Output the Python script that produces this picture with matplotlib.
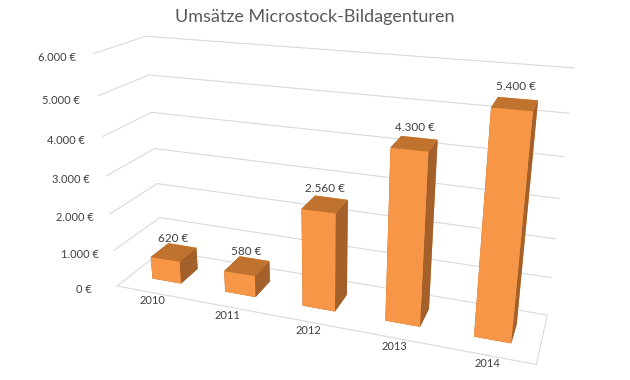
import matplotlib
matplotlib.use("Agg")
import matplotlib.pyplot as plt
import numpy as np
from matplotlib.ticker import FuncFormatter

years = ["2010", "2011", "2012", "2013", "2014"]
values = [620, 580, 2560, 4300, 5400]
z_ticks = [0, 1000, 2000, 3000, 4000, 5000, 6000]
title = "Umsätze Microstock-Bildagenturen"

front_c = "#F79646"
top_c = "#C0732F"
side_c = "#A3602A"
text_c = "#404040"

plt.rcParams['font.family'] = ['Lato', 'DejaVu Sans']

fig = plt.figure(figsize=(6.3, 3.8), dpi=100)
ax = fig.add_axes([-0.12, -0.18, 1.25, 1.34], projection='3d')
ax.set_proj_type('persp', focal_length=0.3)
ax.view_init(elev=21, azim=-70)
ax.set_box_aspect((4.2, 0.9, 2.4), zoom=1.0)

bw, bd = 0.4, 0.4
xs = np.arange(len(years))
n = len(years)
# face order: bottom, top, front(-y), back(+y), left(-x), right(+x)
colors = []
for _ in range(n):
    colors += [side_c, top_c, front_c, front_c, side_c, side_c]
ax.bar3d(xs - bw / 2, np.full(n, 0.5 - bd / 2), np.zeros(n), bw, bd, values,
         color=colors, shade=False, edgecolor='none')

for x, v in zip(xs, values):
    lab = f"{v:,}".replace(",", ".") + " €"
    ax.text(x, 0.5, v + 250, lab, ha='center', va='bottom', fontsize=8.5, color=text_c)

ax.set_xlim(-0.5, n - 0.5)
ax.set_ylim(0, 1)
ax.set_zlim(0, 6000)
ax.set_xticks(xs)
ax.set_xticklabels(years, fontsize=8, color=text_c)
ax.set_yticks([])
ax.set_zticks(z_ticks)
ax.zaxis.set_major_formatter(FuncFormatter(lambda v, p: f"{int(v):,}".replace(",", ".") + " €"))
ax.zaxis.set_ticks_position('lower')
ax.tick_params(axis='z', labelsize=8, colors=text_c, pad=8)
ax.tick_params(axis='x', pad=-6)

for axis in (ax.xaxis, ax.yaxis, ax.zaxis):
    axis.set_pane_color((1, 1, 1, 0))
    axis.pane.set_edgecolor((1, 1, 1, 0))
    axis._axinfo['tick']['inward_factor'] = 0
    axis._axinfo['tick']['outward_factor'] = 0
    axis.line.set_color('#d9d9d9')
ax.xaxis._axinfo['grid']['color'] = (1, 1, 1, 0)
ax.yaxis._axinfo['grid']['color'] = (1, 1, 1, 0)
ax.zaxis._axinfo['grid']['color'] = '#d9d9d9'
ax.zaxis._axinfo['grid']['linewidth'] = 0.8
ax.zaxis.line.set_color((1, 1, 1, 0))

fig.text(0.5, 0.955, title, ha='center', va='center', fontsize=13, color='#595959')

fig.savefig("out.png", dpi=100)
